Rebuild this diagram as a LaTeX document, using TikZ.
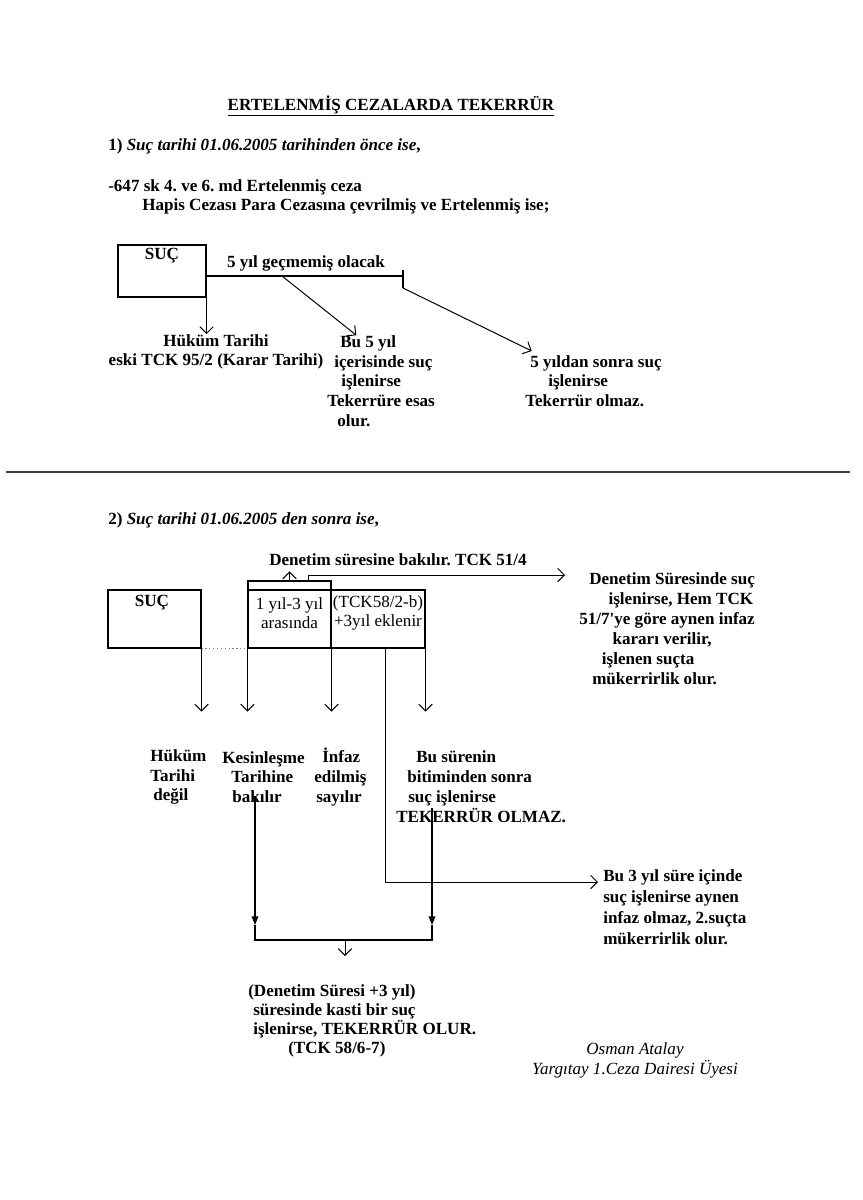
\documentclass[tikz,border=0pt]{standalone}
\usepackage{fontspec}
\setmainfont{Liberation Serif}
\usetikzlibrary{arrows.meta}
\frenchspacing

\begin{document}
\begin{tikzpicture}[x=0.75pt,y=-0.75pt,
  txt/.style={font=\fontsize{12.8}{14.8}\selectfont\bfseries, inner sep=0pt, align=left},
  ince/.style={font=\fontsize{12.8}{14.3}\selectfont, inner sep=0pt, align=center},
  kutu/.style={draw, line width=0.8pt, inner sep=0pt},
  ok/.style={-{Straight Barb[length=5pt,width=10pt]}, line width=0.75pt},
  dolu/.style={-{Triangle[length=6.5pt,width=5pt]}, line width=0.8pt},
  cizgi/.style={line width=0.8pt}]
\useasboundingbox (0,0) rectangle (863,1200);
% --- part 1
\node[txt] (baslik) at (391,106) {\underline{ERTELENMİŞ CEZALARDA TEKERRÜR}};
\node[txt, anchor=west] (bir) at (108,146) {1) \textit{Suç tarihi 01.06.2005 tarihinden önce ise},};
\node[txt, anchor=west] (md) at (108,187) {-647 sk 4. ve 6. md Ertelenmiş ceza};
\node[txt, anchor=west] (hapis) at (142,206) {Hapis Cezası Para Cezasına çevrilmiş ve Ertelenmiş ise;};

\node[kutu, minimum width=66pt, minimum height=39pt] (suc1) at (162,271) {};
\node[txt] (suc1t) at (162,256) {SUÇ};
\node[txt] (bes) at (306,263) {5 yıl geçmemiş olacak};

\node[txt, align=center] (hukum) at (216,352) {Hüküm Tarihi\\eski TCK 95/2 (Karar Tarihi)};
\node[txt, anchor=west] (bu5) at (327,381) {\hspace*{9.75pt}Bu 5 yıl\\\hspace*{5.25pt}içerisinde suç\\\hspace*{10.5pt}işlenirse\\Tekerrüre esas\\\hspace*{7.5pt}olur.};
\node[txt, anchor=west] (sonra5) at (525,381) {\hspace*{3.75pt}5 yıldan sonra suç\\\hspace*{17.25pt}işlenirse\\Tekerrür olmaz.};

\coordinate (tick) at (403,276);
\coordinate (c1) at (282,276);
\draw[cizgi] (suc1.east |- tick) -- (tick) ++(0,-6) -- ++(0,18) coordinate (tickb);
\draw[ok] (suc1.south east) -- (suc1.south east |- hukum.north);
\draw[ok] (c1) -- ([xshift=22pt]bu5.north west);
\draw[ok] (tickb) -- ([shift={(5pt,3pt)}]sonra5.north west);

\draw[line width=1.4pt, black!75] (6,472) -- (850,472);

% --- part 2
\node[txt, anchor=west] (iki) at (108,520) {2) \textit{Suç tarihi 01.06.2005 den sonra ise},};
\node[txt] (denetim) at (398,560) {Denetim süresine bakılır. TCK 51/4};

\node[kutu, minimum width=69.75pt, minimum height=43.5pt] (suc2) at (154.5,619) {};
\node[txt] (suc2t) at (152,603) {SUÇ};
\node[kutu, minimum width=62.25pt, minimum height=43.5pt] (aralik) at (289.5,619) {};
\node[kutu, minimum width=70.5pt, minimum height=43.5pt] (ek) at (378,619) {};
\node[kutu, minimum width=62.25pt, minimum height=6.75pt] (serit) at (289.5,585.5) {};
\node[ince] (aralikt) at (289.5,613) {1 yıl-3 yıl\\arasında};
\node[ince] (ekt) at (378,613) {(TCK58/2-b)\\+3yıl eklenir};

\node[txt, anchor=west, font=\fontsize{12.8}{15}\selectfont\bfseries] (sure) at (579,628.5) {\hspace*{7.5pt}Denetim Süresinde suç\\\hspace*{22pt}işlenirse, Hem TCK\\51/7\textquotesingle ye göre aynen infaz\\\hspace*{25pt}kararı verilir,\\\hspace*{17pt}işlenen suçta\\\hspace*{9.75pt}mükerrirlik olur.};

\coordinate (dk) at (308,581);
\coordinate (dsag) at (565,575);
\draw[ok] (serit.north) -- ++(0,-9);
\draw[ok] (dk) |- (dsag);
\draw[gray, dotted, line width=0.9pt] (suc2.south east) -- (aralik.south west);

\draw[ok] (suc2.south east) -- ++(0,63);
\draw[ok] (aralik.south west) -- ++(0,63);
\draw[ok] (aralik.south east) -- ++(0,63);
\draw[ok] (ek.south east) -- ++(0,63);

\node[txt, anchor=west] (hukum2) at (150,777) {Hüküm\\Tarihi\\\hspace*{2.25pt}değil};
\node[txt, anchor=west] (kesin) at (222,777) {Kesinleşme\\\hspace*{6.75pt}Tarihine\\\hspace*{7.5pt}bakılır};
\node[txt, anchor=west] (infaz) at (314,777) {\hspace*{6pt}İnfaz\\edilmiş\\\hspace*{1.5pt}sayılır};
\node[txt, anchor=west, font=\fontsize{12.8}{15}\selectfont\bfseries] (bitim) at (396,787) {\hspace*{15pt}Bu sürenin\\\hspace*{8.25pt}bitiminden sonra\\\hspace*{9pt}suç işlenirse\\TEKERRÜR OLMAZ.};

\coordinate (uc) at (385,648);
\coordinate (uc3) at (598,882);
\draw[ok] (uc) |- (uc3);
\node[txt, anchor=west, font=\fontsize{12.8}{15.75}\selectfont\bfseries] (bu3) at (603,907) {Bu 3 yıl süre içinde\\suç işlenirse aynen\\infaz olmaz, 2.suçta\\mükerrirlik olur.};

\coordinate (solust) at (255,796);
\coordinate (sagust) at (432,808);
\coordinate (sol) at (255,925);
\coordinate (sag) at (432,925);
\draw[dolu] (solust) -- (sol);
\draw[dolu] (sagust) -- (sag);
\draw[cizgi] (sol) -- ++(0,15) -| (sag);
\coordinate (orta) at (345,940);
\draw[ok] (orta) -- ++(0,16);

\node[txt, anchor=west, font=\fontsize{12.8}{14.25}\selectfont\bfseries] (sonuc) at (248,1021) {(Denetim Süresi +3 yıl)\\\hspace*{3.75pt}süresinde kasti bir suç\\\hspace*{3.75pt}işlenirse, TEKERRÜR OLUR.\\\hspace*{30pt}(TCK 58/6-7)};
\node[ince, font=\fontsize{12.8}{15}\selectfont\itshape] (imza) at (635,1060) {Osman Atalay\\Yargıtay 1.Ceza Dairesi Üyesi};
\end{tikzpicture}
\end{document}
